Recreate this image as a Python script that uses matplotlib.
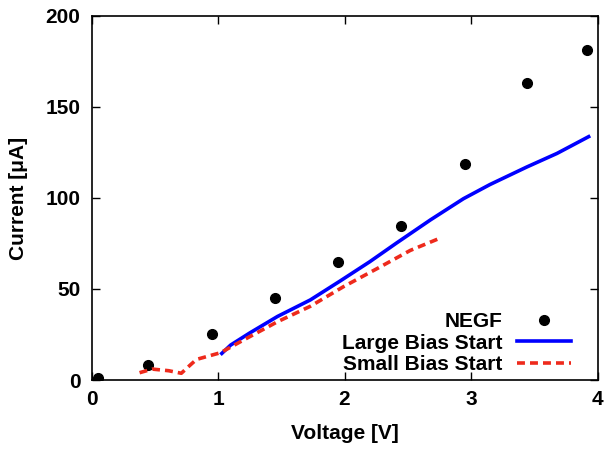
import matplotlib
matplotlib.use("Agg")
import matplotlib.pyplot as plt

plt.rcParams['font.family'] = ['Liberation Sans', 'DejaVu Sans']
plt.rcParams['font.weight'] = 'bold'

# NEGF reference points
negf_v = [0.05, 0.45, 0.95, 1.45, 1.95, 2.45, 2.95, 3.44, 3.92]
negf_i = [1.2, 8.0, 25.2, 45.2, 64.8, 84.4, 118.5, 163.0, 181.5]

# large bias start sweep
large_v = [1.03, 1.10, 1.25, 1.47, 1.73, 1.97, 2.20, 2.41, 2.68, 2.94, 3.15, 3.44, 3.68, 3.93]
large_i = [14.6, 19.2, 25.8, 34.9, 44.0, 54.6, 65.0, 75.2, 88.0, 99.6, 107.4, 117.0, 124.5, 133.7]

# small bias start sweep
small_v = [0.38, 0.48, 0.61, 0.71, 0.78, 0.83, 1.02, 1.20, 1.47, 1.73, 1.99, 2.26, 2.52, 2.75]
small_i = [4.0, 6.0, 5.1, 3.7, 8.2, 11.3, 15.0, 21.9, 32.0, 40.5, 51.2, 61.3, 71.2, 77.8]

fs = 15

fig = plt.figure(figsize=(6.09, 4.51), dpi=100)
ax = fig.add_axes([91.5/609, 1 - 380/451, 506/609, 364/451])

ax.plot(negf_v, negf_i, 'o', color='black', markersize=7, label='NEGF')
ax.plot(large_v, large_i, '-', color='#0000ff', linewidth=2.6, label='Large Bias Start')
ax.plot(small_v, small_i, '--', color='#ee2a1c', linewidth=2.6, dashes=(2.2, 1.4), label='Small Bias Start')

ax.set_xlim(0, 4)
ax.set_ylim(0, 200)
ax.set_xticks([0, 1, 2, 3, 4])
ax.set_yticks([0, 50, 100, 150, 200])
ax.tick_params(direction='in', length=6, width=1, top=True, right=True, labelsize=fs)
ax.tick_params(axis='x', pad=7)
ax.tick_params(axis='y', pad=8)
for lbl in ax.get_xticklabels() + ax.get_yticklabels():
    lbl.set_fontweight('bold')
for s in ax.spines.values():
    s.set_linewidth(1.2)

ax.set_xlabel('Voltage [V]', fontsize=fs, fontweight='bold')
ax.set_ylabel('Current [μA]', fontsize=fs, fontweight='bold')
ax.xaxis.set_label_coords(0.5, -0.122)
ax.yaxis.set_label_coords(-0.125, 0.5)

leg = ax.legend(loc='lower right', frameon=False, markerfirst=False, fontsize=fs,
                handlelength=2.6, handletextpad=0.7, labelspacing=0.12,
                borderaxespad=0.2, bbox_to_anchor=(0.973, -0.018))
for t in leg.get_texts():
    t.set_fontweight('bold')

fig.savefig('out.png', dpi=100)
